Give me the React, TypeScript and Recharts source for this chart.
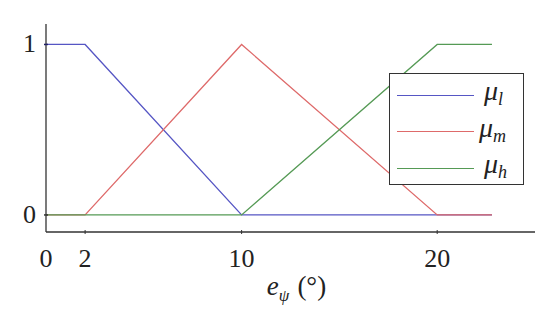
import { LineChart, Line, XAxis, YAxis, Label } from "recharts";

// breakpoints of the membership functions (e_psi, degrees)
const xPoints = [0, 2, 10, 20, 22.8];
const muLow = [1, 1, 0, 0, 0];
const muMid = [0, 0, 1, 0, 0];
const muHigh = [0, 0, 0, 1, 1];

const xTicks = [0, 2, 10, 20];
const yTicks = [0, 1];

const series = [
  { key: "low", sub: "l", color: "#5656c4" },
  { key: "mid", sub: "m", color: "#de6a6a" },
  { key: "high", sub: "h", color: "#559a55" },
];

const data = xPoints.map((x, i) => ({
  x,
  low: muLow[i],
  mid: muMid[i],
  high: muHigh[i],
}));

const SERIF = "'Liberation Serif', 'Times New Roman', Times, serif";
const AXIS = "#333";

function XTick(props: any) {
  const { x, y, payload } = props;
  return (
    <g>
      {payload.value !== 0 && <line x1={x} x2={x} y1={y - 4} y2={y} stroke={AXIS} strokeWidth={1} />}
      <text x={x} y={y + 33} textAnchor="middle" style={{ fontFamily: SERIF, fontSize: 26 }} fill="#222">
        {payload.value}
      </text>
    </g>
  );
}

function YTick(props: any) {
  const { x, y, payload } = props;
  return (
    <g>
      <line x1={x} x2={x + 4} y1={y} y2={y} stroke={payload.value === 1 ? "#222266" : AXIS} strokeWidth={1.5} />
      <text x={x - 8} y={y + 8} textAnchor="end" style={{ fontFamily: SERIF, fontSize: 26 }} fill="#222">
        {payload.value}
      </text>
    </g>
  );
}

function AxisTitle(props: any) {
  const { viewBox } = props;
  const cx = viewBox.x + viewBox.width / 2 + 6;
  return (
    <text x={cx} y={viewBox.y + 63} textAnchor="middle" style={{ fontFamily: SERIF }} fill="#222">
      <tspan fontSize={27} fontStyle="italic">e</tspan>
      <tspan fontSize={17} fontStyle="italic" dy={6}>ψ</tspan>
      <tspan fontSize={27} dy={-6} dx={8}>(°)</tspan>
    </text>
  );
}

function LegendBox() {
  return (
    <div
      style={{
        position: "absolute",
        left: 389,
        top: 73,
        width: 135,
        height: 112,
        border: "1.5px solid #333",
        background: "#fff",
        boxSizing: "border-box",
        padding: "3px 0 0 7px",
      }}
    >
      {series.map((s) => (
        <div key={s.key} style={{ display: "flex", alignItems: "center", height: 36.5 }}>
          <div style={{ width: 77, height: 0, borderTop: `1.5px solid ${s.color}` }} />
          <span
            style={{
              fontFamily: SERIF,
              fontSize: 28,
              fontStyle: "italic",
              marginLeft: s.sub === "m" ? 5 : 10,
              color: "#222",
              lineHeight: "26px",
            }}
          >
            μ<sub style={{ fontSize: 18, verticalAlign: "-5px" }}>{s.sub}</sub>
          </span>
        </div>
      ))}
    </div>
  );
}

export default function App() {
  return (
    <div style={{ position: "fixed", left: 0, top: 0, width: 550, height: 314, background: "#fff" }}>
      <LineChart width={550} height={314} data={data} margin={{ top: 24, right: 15, bottom: 22, left: 6 }}>
        <XAxis
          dataKey="x"
          type="number"
          domain={[0, 25]}
          ticks={xTicks}
          tick={<XTick />}
          tickLine={false}
          tickSize={0}
          height={60}
          stroke={AXIS}
          strokeWidth={1.3}
          allowDecimals
        >
          <Label content={<AxisTitle />} />
        </XAxis>
        <YAxis
          type="number"
          domain={[-0.1, 1.12]}
          ticks={yTicks}
          tick={<YTick />}
          tickLine={false}
          tickSize={0}
          width={40}
          stroke={AXIS}
          strokeWidth={1.3}
          allowDataOverflow
        />
        {series.map((s) => (
          <Line
            key={s.key}
            dataKey={s.key}
            type="linear"
            stroke={s.color}
            strokeWidth={1.3}
            dot={false}
            isAnimationActive={false}
          />
        ))}
      </LineChart>
      <LegendBox />
    </div>
  );
}
